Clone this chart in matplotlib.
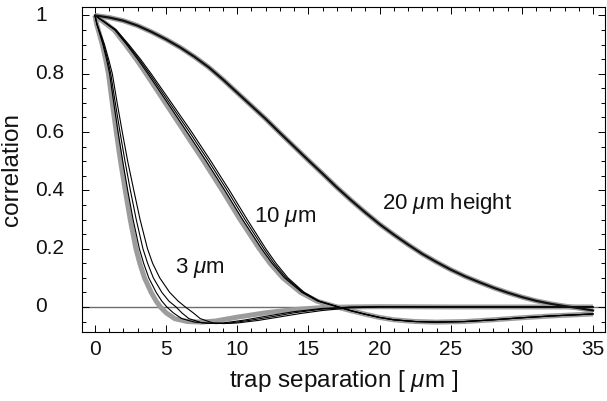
import matplotlib
matplotlib.use("Agg")
import matplotlib.pyplot as plt
from matplotlib.ticker import MultipleLocator

plt.rcParams['font.family'] = ['Liberation Sans', 'DejaVu Sans']
plt.rcParams['mathtext.fontset'] = 'custom'
plt.rcParams['mathtext.rm'] = 'Liberation Sans'
plt.rcParams['mathtext.it'] = 'Liberation Sans:italic'

# ---------------- data ----------------
# 3 um group: descending part on common y levels, then tails
y3_levels = [1.0, 0.97, 0.93, 0.9, 0.85, 0.8, 0.7, 0.6, 0.5, 0.4, 0.3, 0.2, 0.15, 0.1, 0.05, 0.02, 0.0, -0.02, -0.04]
x3_gray = [0, 0.12, 0.35, 0.52, 0.75, 0.95, 1.22, 1.5, 1.8, 2.13, 2.48, 2.88, 3.15, 3.48, 3.95, 4.3, 4.6, 5.0, 5.6]
x3_b1 = [0, 0.13, 0.38, 0.56, 0.81, 1.03, 1.32, 1.62, 1.95, 2.3, 2.68, 3.12, 3.42, 3.78, 4.3, 4.7, 5.05, 5.5, 6.1]
x3_b2 = [0, 0.14, 0.41, 0.61, 0.88, 1.11, 1.43, 1.76, 2.11, 2.49, 2.9, 3.37, 3.7, 4.1, 4.7, 5.2, 5.7, 6.1, 6.6]
x3_b3 = [0, 0.15, 0.45, 0.67, 0.96, 1.22, 1.56, 1.92, 2.3, 2.73, 3.17, 3.69, 4.05, 4.55, 5.25, 5.85, 6.35, 6.9, 7.4]
t3_gray_x = [6.5, 7.5, 8.5, 10, 12, 14, 16, 18, 20, 25, 30, 35]
t3_gray_y = [-0.05, -0.052, -0.048, -0.035, -0.02, -0.009, -0.002, 0.0, 0.001, 0.0, 0.0, 0.0]
t3_b1_x = [7, 8, 9, 10.5, 12, 14, 16, 18, 20, 25, 30, 35]
t3_b1_y = [-0.052, -0.056, -0.055, -0.045, -0.032, -0.016, -0.005, 0.0, 0.001, 0.0, 0.0, 0.0]
t3_b2_x = [7.5, 8.5, 9.5, 11, 12.5, 14, 16, 18, 20, 25, 30, 35]
t3_b2_y = [-0.054, -0.057, -0.055, -0.045, -0.033, -0.02, -0.007, -0.001, 0.0, 0.0, 0.0, 0.0]
t3_b3_x = [8.3, 9, 10, 11.5, 13, 14.5, 16, 18, 20, 25, 30, 35]
t3_b3_y = [-0.055, -0.057, -0.055, -0.046, -0.034, -0.022, -0.012, -0.003, 0.0, 0.0, 0.0, 0.0]

# 10 um group
y10_levels = [1.0, 0.98, 0.95, 0.9, 0.85, 0.8, 0.7, 0.6, 0.5, 0.4, 0.3, 0.2, 0.15, 0.1, 0.05, 0.02, 0.0]
x10_gray = [0, 0.55, 1.35, 2.15, 2.9, 3.6, 4.95, 6.3, 7.65, 8.95, 10.2, 11.55, 12.3, 13.2, 14.45, 15.6, 17.0]
x10_b1 = [0, 0.57, 1.4, 2.23, 3.0, 3.72, 5.1, 6.47, 7.82, 9.12, 10.37, 11.7, 12.44, 13.32, 14.54, 15.66, 17.05]
x10_b2 = [0, 0.6, 1.45, 2.3, 3.1, 3.84, 5.24, 6.64, 7.99, 9.29, 10.54, 11.86, 12.58, 13.44, 14.62, 15.72, 17.1]
x10_b3 = [0, 0.63, 1.5, 2.38, 3.2, 3.95, 5.38, 6.8, 8.15, 9.45, 10.7, 12.0, 12.72, 13.56, 14.7, 15.78, 17.15]
t10_x = [18, 19, 20, 21, 22.5, 24, 26, 28, 30, 32, 35]
t10_y = [-0.013, -0.025, -0.036, -0.044, -0.05, -0.052, -0.05, -0.044, -0.037, -0.031, -0.024]

# 20 um group
x20 = list(range(0, 36))
y20 = [1.0, 0.993, 0.982, 0.965, 0.943, 0.918, 0.89, 0.858, 0.822, 0.78,
       0.735, 0.69, 0.645, 0.597, 0.55, 0.503, 0.457, 0.41, 0.366, 0.324,
       0.284, 0.248, 0.214, 0.182, 0.154, 0.128, 0.105, 0.085, 0.066, 0.049,
       0.034, 0.021, 0.011, 0.003, -0.004, -0.012]

labels = ["3 $\\mu$m", "10 $\\mu$m", "20 $\\mu$m height"]
label_pos = [(5.6, 0.133), (11.2, 0.31), (20.2, 0.355)]

xticks = [0, 5, 10, 15, 20, 25, 30, 35]
yticks = [0, 0.2, 0.4, 0.6, 0.8, 1]
ytick_labels = ["0", "0.2", "0.4", "0.6", "0.8", "1"]

# ---------------- figure ----------------
fig = plt.figure(figsize=(6.07, 4.01), dpi=100)
ax = fig.add_axes([0.1351, 0.172, 0.8616, 0.8105])

GRAY = '#9c9c9c'
ax.axhline(0, color='#6e6e6e', lw=1.0, zorder=1)

gw = 3.6
bw = 0.8
ax.plot(x3_gray + t3_gray_x, y3_levels + t3_gray_y, color=GRAY, lw=gw, solid_capstyle='butt', zorder=2)
ax.plot(x10_gray + t10_x, y10_levels + t10_y, color=GRAY, lw=gw, solid_capstyle='butt', zorder=2)
ax.plot(x20, y20, color=GRAY, lw=gw, solid_capstyle='butt', zorder=2)

for xs, tx, ty in [(x3_b1, t3_b1_x, t3_b1_y), (x3_b2, t3_b2_x, t3_b2_y), (x3_b3, t3_b3_x, t3_b3_y)]:
    ax.plot(xs + tx, y3_levels + ty, color='black', lw=bw, zorder=3)
for xs in [x10_b1, x10_b2, x10_b3]:
    ax.plot(xs + t10_x, y10_levels + t10_y, color='black', lw=bw, zorder=3)
ax.plot(x20, y20, color='#111111', lw=1.6, zorder=3)

for txt, (tx, ty) in zip(labels, label_pos):
    ax.text(tx, ty, txt, fontsize=16, ha='left', va='center', color='#111111')

ax.set_xlim(-0.91, 35.84)
ax.set_ylim(-0.086, 1.029)
ax.set_xticks(xticks)
ax.set_yticks(yticks)
ax.set_yticklabels([])
ax.xaxis.set_minor_locator(MultipleLocator(1))
ax.yaxis.set_minor_locator(MultipleLocator(0.05))
ax.tick_params(which='both', direction='in', top=True, right=True, width=0.7, colors='black',
               labelsize=15, labelcolor='#111111')
ax.tick_params(which='major', length=5, pad=6)
ax.tick_params(which='minor', length=3)
for s in ax.spines.values():
    s.set_linewidth(0.8)

# y tick labels aligned on the left (decimal-aligned look)
ytrans = ax.get_yaxis_transform()
for yv, lab in zip(yticks, ytick_labels):
    ax.text(-0.089, yv, lab, transform=ytrans, ha='left', va='center',
            fontsize=15, color='#111111')

ax.set_xlabel("trap separation [ $\\mu$m ]", fontsize=17.5, color='#111111', labelpad=6)
ax.set_ylabel("correlation", fontsize=17.5, color='#111111')
ax.yaxis.set_label_coords(-0.113, 0.5)

fig.savefig("out.png", dpi=100)
